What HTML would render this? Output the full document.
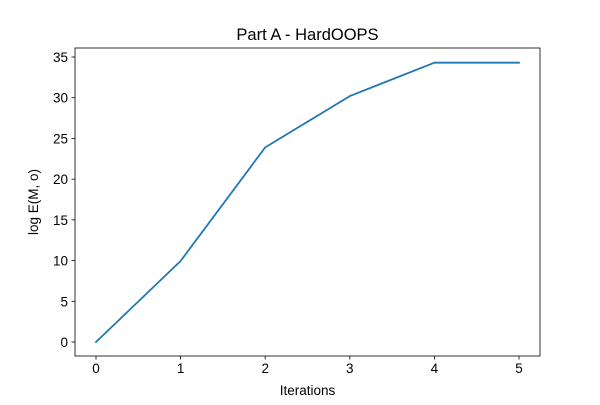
<!DOCTYPE html>
<html>
<head>
<style>
html,body{margin:0;padding:0;background:#fff;}
svg text{font-family:"Liberation Sans","DejaVu Sans",sans-serif;fill:#000;}
</style>
</head>
<body>
<svg id="chart" width="600" height="400" viewBox="0 0 600 400">
<rect x="0" y="0" width="600" height="400" fill="#fff"/>
<text x="307.5" y="40" font-size="16.5" text-anchor="middle">Part A - HardOOPS</text>
<g id="axes"></g>
<text x="307.5" y="395" font-size="13.5" text-anchor="middle">Iterations</text>
<text transform="translate(38,202) rotate(-90)" font-size="13.5" text-anchor="middle">log E(M, o)</text>
</svg>
<script>
const categories = [0, 1, 2, 3, 4, 5];
const values = [0, 9.95, 23.9, 30.2, 34.3, 34.3];
const xTicks = [0, 1, 2, 3, 4, 5];
const yTicks = [0, 5, 10, 15, 20, 25, 30, 35];

const L = 75, R = 540, T = 48, B = 356;
function xs(v){ return 96 + v * (519 - 96) / 5; }
function ys(v){ return 342 - v * (342 - 57) / 35; }
const NS = "http://www.w3.org/2000/svg";
const g = document.getElementById('axes');
function mk(tag, attrs){ const e = document.createElementNS(NS, tag); for (const k in attrs) e.setAttribute(k, attrs[k]); g.appendChild(e); return e; }

xTicks.forEach(t => {
  const tk = mk('line', {x1: xs(t), x2: xs(t), y1: B, y2: B + 3.5, stroke: '#000', 'stroke-width': 0.8});
  
  
  const lb = mk('text', {x: xs(t), y: B + 17, 'font-size': 13.5, 'text-anchor': 'middle'});
  lb.textContent = t;
  
  
});
yTicks.forEach(t => {
  const tk = mk('line', {x1: L - 3.5, x2: L, y1: ys(t), y2: ys(t), stroke: '#000', 'stroke-width': 0.8});
  
  
  const lb = mk('text', {x: L - 7, y: ys(t) + 5, 'font-size': 13.5, 'text-anchor': 'end'});
  lb.textContent = t;
  
  
});

const pts = categories.map((c, i) => xs(c) + ',' + ys(values[i])).join(' ');
const line = mk('polyline', {points: pts, fill: 'none', stroke: '#1f77b4', 'stroke-width': 1.8, 'stroke-linejoin': 'round', 'stroke-linecap': 'square'});



const frame = mk('rect', {x: L, y: T, width: R - L, height: B - T, fill: 'none', stroke: '#000', 'stroke-width': 0.8});


</script>
</body>
</html>
